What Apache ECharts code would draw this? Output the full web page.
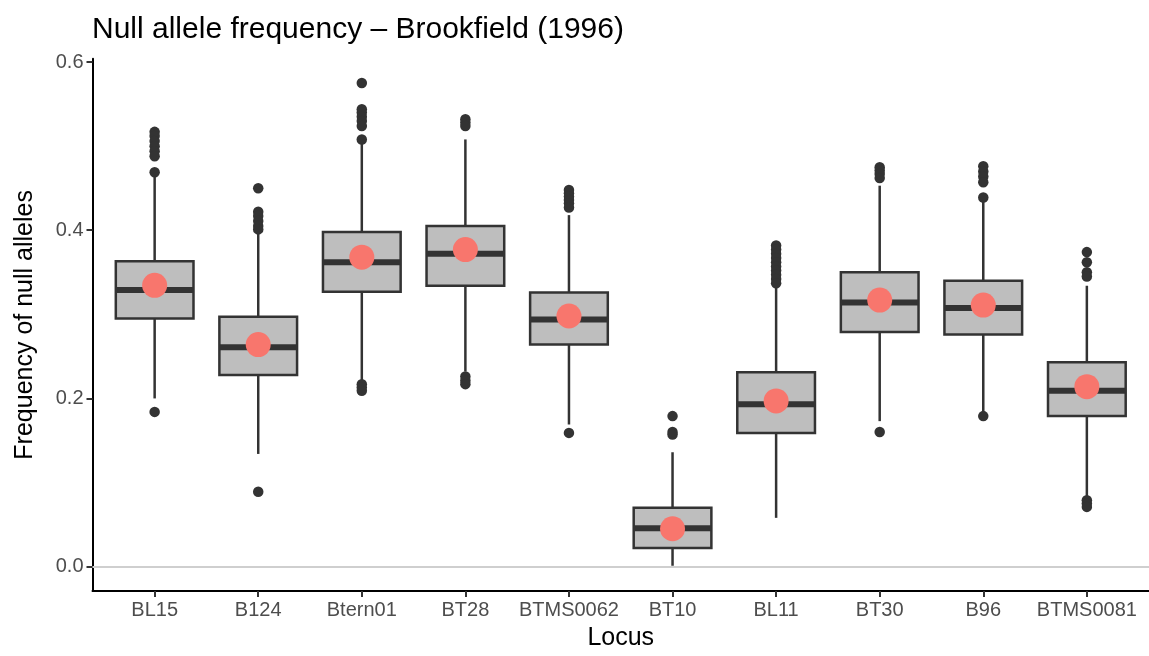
<!DOCTYPE html>
<html>
<head>
<meta charset="utf-8">
<title>Null allele frequency – Brookfield (1996)</title>
<script src="https://cdn.jsdelivr.net/npm/echarts@6/dist/echarts.min.js"></script>
<style>
  html, body { margin: 0; padding: 0; background: #ffffff; }
  #chart { width: 1149px; height: 656px; }
</style>
</head>
<body>
<div id="chart"></div>
<script>
// Loci on the x axis
const loci = ['BL15', 'B124', 'Btern01', 'BT28', 'BTMS0062', 'BT10', 'BL11', 'BT30', 'B96', 'BTMS0081'];

// Box-and-whisker statistics per locus
const whiskerLow  = [0.200, 0.134, 0.220, 0.232, 0.169, 0.001, 0.058, 0.173, 0.183, 0.083];
const lowerQuart  = [0.295, 0.228, 0.327, 0.334, 0.264, 0.022, 0.159, 0.279, 0.276, 0.179];
const medians     = [0.329, 0.261, 0.362, 0.372, 0.294, 0.0455, 0.193, 0.314, 0.3075, 0.209];
const upperQuart  = [0.363, 0.297, 0.398, 0.405, 0.326, 0.070, 0.231, 0.350, 0.340, 0.243];
const whiskerHigh = [0.465, 0.396, 0.504, 0.508, 0.418, 0.136, 0.332, 0.453, 0.434, 0.334];

// Mean null allele frequency per locus
const means = [0.3345, 0.264, 0.368, 0.377, 0.298, 0.045, 0.197, 0.317, 0.311, 0.214];

// Outlying values per locus
const outliers = [
  [0.517, 0.512, 0.506, 0.500, 0.494, 0.488, 0.469, 0.184],
  [0.450, 0.422, 0.417, 0.411, 0.405, 0.401, 0.089],
  [0.575, 0.544, 0.540, 0.535, 0.530, 0.524, 0.508, 0.217, 0.213, 0.209],
  [0.532, 0.528, 0.524, 0.226, 0.221, 0.217],
  [0.448, 0.444, 0.440, 0.436, 0.432, 0.427, 0.159],
  [0.179, 0.160, 0.157],
  [0.382, 0.377, 0.372, 0.367, 0.362, 0.357, 0.352, 0.347, 0.342, 0.337],
  [0.475, 0.471, 0.467, 0.462, 0.160],
  [0.476, 0.470, 0.464, 0.457, 0.439, 0.179],
  [0.374, 0.362, 0.350, 0.345, 0.079, 0.075, 0.071]
];

// Tick values on the frequency axis
const yTicks = [0, 0.2, 0.4, 0.6];

const FONT = "'Liberation Sans', Arial, Helvetica, sans-serif";
const INK = '#333333';
const BOX_WIDTH = 0.75;            // in category units
const X_MIN = -0.6, X_MAX = loci.length - 1 + 0.6;

const boxData = loci.map((_, i) => [i, whiskerLow[i], lowerQuart[i], medians[i], upperQuart[i], whiskerHigh[i]]);
const meanData = means.map((m, i) => [i, m]);
const outlierData = [];
outliers.forEach((vals, i) => vals.forEach(v => outlierData.push([i, v])));

function renderBox(params, api) {
  const i = api.value(0);
  const lo = api.coord([i, api.value(1)]);
  const b1 = api.coord([i, api.value(2)]);
  const md = api.coord([i, api.value(3)]);
  const b3 = api.coord([i, api.value(4)]);
  const hi = api.coord([i, api.value(5)]);
  const half = api.size([BOX_WIDTH, 0])[0] / 2;
  return {
    type: 'group',
    children: [
      { type: 'line', shape: { x1: hi[0], y1: hi[1], x2: b3[0], y2: b3[1] }, style: { stroke: INK, lineWidth: 2.5 } },
      { type: 'line', shape: { x1: b1[0], y1: b1[1], x2: lo[0], y2: lo[1] }, style: { stroke: INK, lineWidth: 2.5 } },
      { type: 'rect', shape: { x: b3[0] - half, y: b3[1], width: half * 2, height: b1[1] - b3[1] },
        style: { fill: '#bebebe', stroke: INK, lineWidth: 2.5 } },
      { type: 'line', shape: { x1: md[0] - half, y1: md[1], x2: md[0] + half, y2: md[1] }, style: { stroke: INK, lineWidth: 6 } }
    ]
  };
}

const chart = echarts.init(document.getElementById('chart'), null, { renderer: 'canvas' });

chart.setOption({
  animation: false,
  backgroundColor: '#ffffff',
  textStyle: { fontFamily: FONT },
  title: {
    text: 'Null allele frequency – Brookfield (1996)',
    left: 92,
    top: 15,
    padding: 0,
    textStyle: { fontFamily: FONT, fontSize: 30, fontWeight: 'normal', color: '#000000' }
  },
  grid: { left: 92.5, top: 58.7, width: 1060, height: 538.7, containLabel: false },
  xAxis: {
    type: 'value',
    min: X_MIN,
    max: X_MAX,
    name: 'Locus',
    nameLocation: 'middle',
    nameGap: 35,
    nameTextStyle: { fontFamily: FONT, fontSize: 25, color: '#000000' },
    splitLine: { show: false },
    axisLine: { show: true, onZero: false, lineStyle: { color: '#000000', width: 2 } },
    axisTick: { show: true, length: 6, customValues: loci.map((_, i) => i), lineStyle: { color: INK, width: 2 } },
    axisLabel: {
      show: true,
      margin: 9,
      customValues: loci.map((_, i) => i),
      formatter: v => loci[Math.round(v)],
      fontFamily: FONT, fontSize: 20, color: '#4d4d4d'
    }
  },
  yAxis: {
    type: 'value',
    min: -0.029,
    max: 0.604,
    name: 'Frequency of null alleles',
    nameLocation: 'middle',
    nameGap: 55,
    nameTextStyle: { fontFamily: FONT, fontSize: 25, color: '#000000' },
    splitLine: { show: false },
    axisLine: { show: true, onZero: false, lineStyle: { color: '#000000', width: 2 } },
    axisTick: { show: true, length: 6, customValues: yTicks, lineStyle: { color: INK, width: 2 } },
    axisLabel: {
      show: true,
      margin: 9,
      customValues: yTicks,
      formatter: v => v.toFixed(1),
      fontFamily: FONT, fontSize: 20, color: '#4d4d4d'
    }
  },
  series: [
    {
      name: 'zero',
      type: 'line',
      data: [],
      z: 1,
      silent: true,
      markLine: {
        silent: true,
        symbol: 'none',
        label: { show: false },
        lineStyle: { color: '#cfcfcf', width: 2, type: 'solid' },
        data: [{ yAxis: 0 }]
      }
    },
    {
      name: 'boxes',
      type: 'custom',
      z: 2,
      data: boxData,
      encode: { x: 0, y: [1, 2, 3, 4, 5] },
      renderItem: renderBox
    },
    {
      name: 'outliers',
      type: 'scatter',
      z: 3,
      data: outlierData,
      symbol: 'circle',
      symbolSize: 10.5,
      itemStyle: { color: INK, opacity: 1 }
    },
    {
      name: 'mean',
      type: 'scatter',
      z: 4,
      data: meanData,
      symbol: 'circle',
      symbolSize: 25,
      itemStyle: { color: '#F8766D', opacity: 1 }
    }
  ]
});
</script>
</body>
</html>
